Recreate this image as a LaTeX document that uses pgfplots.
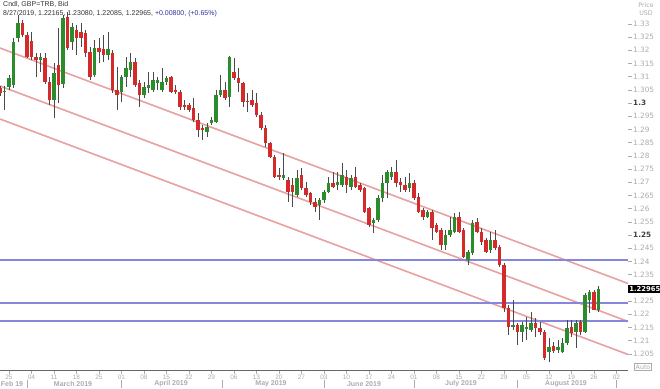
\documentclass[border=0pt]{standalone}
\usepackage{fontspec}
\setmainfont{Liberation Sans}
\newfontfamily\dv{DejaVu Sans}
\usepackage{xcolor}
\usepackage{pgfplots}
\pgfplotsset{compat=1.18}
\usepackage{pgfplotstable}

\definecolor{upc}{HTML}{2A8C2A}
\definecolor{dnc}{HTML}{D42A2A}
\definecolor{wick}{HTML}{4A4A4A}
\definecolor{chan}{HTML}{E8A0A0}
\definecolor{hln}{HTML}{8686DC}
\definecolor{lbl}{HTML}{ABABAB}
\definecolor{hdrblue}{HTML}{2E2EA0}

\pgfplotstableread{
x o h l c
-1 1.3042 1.3064 1.2973 1.3045
0 1.3061 1.3106 1.3049 1.3095
1 1.3068 1.3246 1.3057 1.3231
2 1.3246 1.3333 1.3231 1.3303
7 1.3163 1.3189 1.3117 1.3174
10 1.3011 1.3151 1.2943 1.3114
12 1.3072 1.3333 1.3057 1.3322
14 1.3231 1.3303 1.3201 1.3288
19 1.3106 1.3239 1.3098 1.3208
22 1.3182 1.3269 1.3163 1.3205
25 1.3042 1.3106 1.3004 1.3098
26 1.3098 1.3174 1.3061 1.3133
27 1.3125 1.3189 1.3098 1.3155
30 1.3030 1.3080 1.3019 1.3061
31 1.3057 1.3117 1.3038 1.3068
32 1.3049 1.3117 1.3042 1.3087
33 1.3076 1.3098 1.3049 1.3087
34 1.3049 1.3133 1.3042 1.3080
35 1.3080 1.3102 1.3068 1.3095
44 1.2890 1.2924 1.2871 1.2909
45 1.2924 1.2947 1.2917 1.2936
46 1.2928 1.3049 1.2924 1.3030
47 1.3030 1.3106 1.3023 1.3049
49 1.3023 1.3178 1.2985 1.3174
61 1.2716 1.2811 1.2708 1.2727
64 1.2652 1.2746 1.2644 1.2716
69 1.2614 1.2640 1.2557 1.2633
70 1.2633 1.2670 1.2621 1.2663
71 1.2663 1.2720 1.2659 1.2697
73 1.2689 1.2739 1.2670 1.2701
74 1.2689 1.2773 1.2682 1.2727
76 1.2682 1.2727 1.2670 1.2716
81 1.2545 1.2564 1.2507 1.2557
82 1.2557 1.2652 1.2549 1.2640
83 1.2640 1.2727 1.2625 1.2697
84 1.2697 1.2746 1.2640 1.2739
85 1.2720 1.2758 1.2708 1.2739
89 1.2678 1.2735 1.2663 1.2697
93 1.2568 1.2595 1.2564 1.2587
97 1.2462 1.2519 1.2443 1.2500
98 1.2500 1.2568 1.2492 1.2519
99 1.2511 1.2583 1.2507 1.2568
102 1.2405 1.2443 1.2386 1.2435
103 1.2431 1.2557 1.2424 1.2545
107 1.2443 1.2511 1.2431 1.2481
112 1.2151 1.2254 1.2140 1.2159
114 1.2133 1.2170 1.2095 1.2159
115 1.2144 1.2189 1.2102 1.2151
116 1.2140 1.2208 1.2133 1.2166
120 1.2057 1.2110 1.2019 1.2076
122 1.2064 1.2102 1.2053 1.2076
123 1.2057 1.2110 1.2053 1.2091
124 1.2091 1.2178 1.2083 1.2148
126 1.2133 1.2178 1.2072 1.2166
128 1.2133 1.2280 1.2129 1.2273
129 1.2254 1.2292 1.2204 1.2284
131 1.22165 1.23080 1.22085 1.22965
}\upd

\pgfplotstableread{
x o h l c
-2 1.3057 1.3064 1.3026 1.3038
3 1.3303 1.3314 1.3250 1.3258
4 1.3258 1.3269 1.3170 1.3174
5 1.3235 1.3269 1.3163 1.3174
6 1.3174 1.3189 1.3098 1.3163
8 1.3170 1.3189 1.3072 1.3080
9 1.3080 1.3098 1.2992 1.3011
11 1.3144 1.3284 1.3000 1.3068
13 1.3326 1.3345 1.3201 1.3208
15 1.3277 1.3295 1.3182 1.3246
16 1.3269 1.3303 1.3212 1.3246
17 1.3265 1.3277 1.3174 1.3189
18 1.3193 1.3212 1.3087 1.3098
20 1.3208 1.3246 1.3151 1.3193
21 1.3205 1.3258 1.3155 1.3182
23 1.3189 1.3201 1.3038 1.3049
24 1.3049 1.3136 1.2973 1.3030
28 1.3155 1.3170 1.3061 1.3068
29 1.3076 1.3087 1.2985 1.3030
36 1.3098 1.3102 1.3038 1.3042
37 1.3049 1.3068 1.3034 1.3042
38 1.3042 1.3049 1.2973 1.2985
39 1.2992 1.3011 1.2973 1.2985
40 1.2992 1.3000 1.2966 1.2973
41 1.2981 1.3019 1.2928 1.2936
42 1.2936 1.2962 1.2871 1.2898
43 1.2905 1.2917 1.2860 1.2898
48 1.3049 1.3080 1.3011 1.3019
50 1.3117 1.3170 1.3087 1.3095
51 1.3095 1.3133 1.3042 1.3076
52 1.3076 1.3080 1.2985 1.3004
53 1.3008 1.3038 1.2966 1.3004
54 1.3011 1.3049 1.2985 1.2992
55 1.3000 1.3038 1.2947 1.2955
56 1.2955 1.2966 1.2898 1.2905
57 1.2905 1.2917 1.2833 1.2848
58 1.2848 1.2852 1.2792 1.2795
59 1.2795 1.2803 1.2716 1.2720
60 1.2727 1.2754 1.2708 1.2720
62 1.2708 1.2720 1.2625 1.2663
63 1.2689 1.2716 1.2606 1.2663
65 1.2727 1.2754 1.2670 1.2678
66 1.2678 1.2701 1.2644 1.2652
67 1.2659 1.2663 1.2614 1.2625
68 1.2625 1.2640 1.2587 1.2606
72 1.2697 1.2739 1.2678 1.2682
75 1.2720 1.2746 1.2659 1.2689
77 1.2720 1.2758 1.2678 1.2682
78 1.2689 1.2697 1.2663 1.2670
79 1.2678 1.2682 1.2583 1.2587
80 1.2602 1.2606 1.2530 1.2538
86 1.2739 1.2784 1.2682 1.2697
87 1.2701 1.2716 1.2663 1.2689
88 1.2689 1.2720 1.2663 1.2670
90 1.2697 1.2708 1.2633 1.2640
91 1.2644 1.2659 1.2583 1.2587
92 1.2595 1.2602 1.2557 1.2568
94 1.2587 1.2595 1.2481 1.2526
95 1.2538 1.2545 1.2507 1.2511
96 1.2519 1.2526 1.2443 1.2462
100 1.2568 1.2587 1.2507 1.2511
101 1.2519 1.2526 1.2412 1.2416
104 1.2549 1.2564 1.2507 1.2511
105 1.2511 1.2526 1.2462 1.2473
106 1.2481 1.2488 1.2431 1.2435
108 1.2481 1.2519 1.2443 1.2450
109 1.2454 1.2462 1.2378 1.2386
110 1.2386 1.2394 1.2208 1.2223
111 1.2223 1.2235 1.2121 1.2151
113 1.2159 1.2166 1.2083 1.2133
117 1.2166 1.2186 1.2114 1.2148
118 1.2148 1.2170 1.2121 1.2133
119 1.2133 1.2140 1.2026 1.2034
121 1.2079 1.2095 1.2053 1.2060
125 1.2151 1.2178 1.2114 1.2129
127 1.2170 1.2178 1.2121 1.2133
130 1.2284 1.2292 1.2216 1.22165
}\dnd

\begin{document}
\begin{tikzpicture}
\useasboundingbox (0pt,0pt) rectangle (660pt,388pt);
\begin{axis}[
  at={(0pt,388pt)}, anchor=north west,
  scale only axis, width=628pt, height=370pt,
  xmin=-2, xmax=137.56, ymin=1.19887, ymax=1.33902,
  axis x line*=bottom, axis y line*=right,
  x axis line style={draw=black!60, line width=0.6pt, -},
  y axis line style={draw=none},
  tick align=outside, major tick length=3.5pt,
  xtick={0,5,...,135},
  xticklabels={25,04,11,18,25,01,08,15,22,29,06,13,20,27,03,10,17,24,01,08,15,22,29,05,12,19,26,02},
  x tick label style={font=\fontsize{6.5}{7}\selectfont, text=lbl, inner sep=1pt},
  x tick style={draw=lbl, line width=0.5pt},
  ytick={1.205,1.21,1.215,1.22,1.225,1.23,1.235,1.24,1.245,1.25,1.255,1.26,1.265,1.27,1.275,1.28,1.285,1.29,1.295,1.3,1.305,1.31,1.315,1.32,1.325,1.33},
  yticklabels={1.205,1.21,1.215,1.22,1.225,{},1.235,1.24,1.245,{\color{black!75}\bfseries 1.25},1.255,1.26,1.265,1.27,1.275,1.28,1.285,1.29,1.295,{\color{black!75}\bfseries 1.3},1.305,1.31,1.315,1.32,1.325,1.33},
  y tick label style={font=\dv\fontsize{7.3}{8}\selectfont, text=lbl, inner sep=1.5pt},
  y tick style={draw=lbl, line width=0.5pt},
]
% channel lines
\addplot[chan, line width=1.6pt, mark=none] coordinates {(-2,1.32083) (137.56,1.23164)};
\addplot[chan, line width=1.6pt, mark=none] coordinates {(-2,1.30644) (137.56,1.21725)};
\addplot[chan, line width=1.6pt, mark=none] coordinates {(-2,1.29394) (137.56,1.20475)};
% horizontal levels
\addplot[hln, line width=1.7pt, mark=none] coordinates {(-2,1.2405) (137.56,1.2405)};
\addplot[hln, line width=1.7pt, mark=none] coordinates {(-2,1.2243) (137.56,1.2243)};
\addplot[hln, line width=1.7pt, mark=none] coordinates {(-2,1.2173) (137.56,1.2173)};
% wicks
\addplot[draw=none, mark=none, error bars/.cd, y dir=plus, y explicit, error mark=none,
  error bar style={wick, line width=0.7pt}]
  table[x=x, y=l, y error plus expr=\thisrow{h}-\thisrow{l}] {\upd};
\addplot[draw=none, mark=none, error bars/.cd, y dir=plus, y explicit, error mark=none,
  error bar style={wick, line width=0.7pt}]
  table[x=x, y=l, y error plus expr=\thisrow{h}-\thisrow{l}] {\dnd};
% bodies
\addplot[draw=none, mark=none, error bars/.cd, y dir=plus, y explicit, error mark=none,
  error bar style={upc, line width=3.4pt}]
  table[x=x, y=o, y error plus expr={max(\thisrow{c}-\thisrow{o},0.0003)}] {\upd};
\addplot[draw=none, mark=none, error bars/.cd, y dir=plus, y explicit, error mark=none,
  error bar style={dnc, line width=3.4pt}]
  table[x=x, y=c, y error plus expr={max(\thisrow{o}-\thisrow{c},0.0003)}] {\dnd};
\coordinate (pb) at (axis cs:137.56,1.22965);
\end{axis}
% last price box
\node[anchor=west, fill=black, text=white, inner sep=1.2pt, font=\dv\bfseries\fontsize{6.8}{7}\selectfont] at (pb) {1.22965};
% header
\node[anchor=north west, inner sep=0pt, font=\fontsize{7}{8}\selectfont, text=black!80] at (3pt,387pt) {Cndl, GBP=TRB, Bid};
\node[anchor=north west, inner sep=0pt, font=\fontsize{7}{8}\selectfont, text=black!80] at (3pt,378pt) {8/27/2019, 1.22165, 1.23080, 1.22085, 1.22965, \textcolor{hdrblue}{+0.00800, (+0.65\%)}};
% price unit
\node[anchor=center, inner sep=0pt, font=\dv\fontsize{6.3}{7}\selectfont, text=lbl] at (646pt,383pt) {Price};
\node[anchor=center, inner sep=0pt, font=\dv\fontsize{6.3}{7}\selectfont, text=lbl] at (646pt,374.5pt) {USD};
% auto box
\node[draw=lbl, inner sep=1pt, font=\dv\fontsize{6.3}{7}\selectfont, text=lbl] at (643pt,21pt) {Auto};
% month labels
\begin{scope}[font=\bfseries\fontsize{7}{8}\selectfont, text=lbl]
\node[anchor=center, inner sep=0pt] at (12pt,4pt) {Feb 19};
\node[anchor=center, inner sep=0pt] at (73pt,4pt) {March 2019};
\node[anchor=center, inner sep=0pt] at (171pt,4pt) {April 2019};
\node[anchor=center, inner sep=0pt] at (271pt,4pt) {May 2019};
\node[anchor=center, inner sep=0pt] at (364pt,4pt) {June 2019};
\node[anchor=center, inner sep=0pt] at (461pt,4pt) {July 2019};
\node[anchor=center, inner sep=0pt] at (566pt,4pt) {August 2019};
\end{scope}
\foreach \sx in {27,121.5,222,324,414,517.5,616.5} {
  \draw[lbl, line width=0.5pt] (\sx pt,0.5pt) -- (\sx pt,8pt);
}
\end{tikzpicture}
\end{document}
